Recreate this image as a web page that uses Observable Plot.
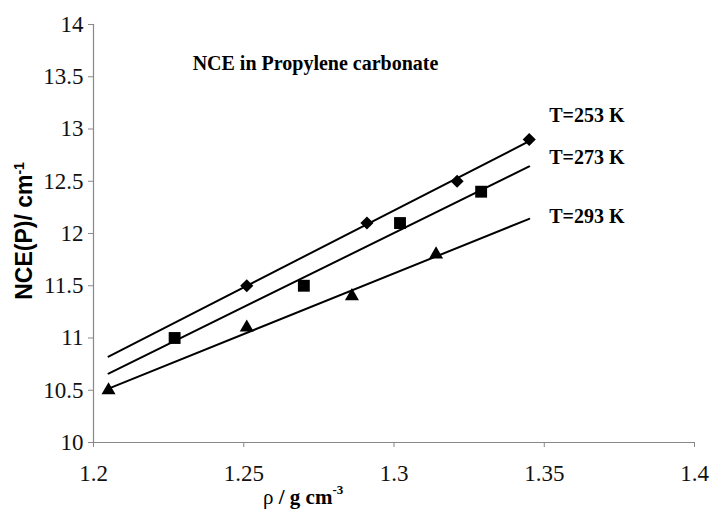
<!DOCTYPE html>
<html>
<head>
<meta charset="utf-8">
<script src="https://cdn.jsdelivr.net/npm/d3@7"></script>
<script src="https://cdn.jsdelivr.net/npm/@observablehq/plot@0.6"></script>
<style>
  html, body { margin: 0; padding: 0; background: #fff; }
  #chart svg text, #chart svg tspan { font-family: "Liberation Serif", "Times New Roman", serif !important; }
  #chart svg text.ylab, #chart svg text.ylab tspan { font-family: "Liberation Sans", Arial, sans-serif !important; }
</style>
</head>
<body>
<div id="chart"></div>
<script>
// ---- data ----
const chartTitle = "NCE in Propylene carbonate";
const xTicks = [1.2, 1.25, 1.3, 1.35, 1.4];
const yTicks = [10, 10.5, 11, 11.5, 12, 12.5, 13, 13.5, 14];
const seriesNames = ["T=253 K", "T=273 K", "T=293 K"];

const rho253 = [1.251, 1.291, 1.321, 1.345];
const nce253 = [11.5, 12.1, 12.5, 12.9];

const rho273 = [1.227, 1.270, 1.302, 1.329];
const nce273 = [11.0, 11.5, 12.1, 12.4];

const rho293 = [1.205, 1.251, 1.286, 1.314];
const nce293 = [10.5, 11.1, 11.4, 11.8];

// trendline extent (Excel-style forecast range)
const trendRange = [1.205, 1.345];

// ---- helpers ----
function toRows(xs, ys) { return xs.map((x, i) => ({x, y: ys[i]})); }
function regressionLine(xs, ys) {
  const mx = d3.mean(xs), my = d3.mean(ys);
  const sxy = d3.sum(xs, (x, i) => (x - mx) * (ys[i] - my));
  const sxx = d3.sum(xs, x => (x - mx) ** 2);
  const b = sxy / sxx, a = my - b * mx;
  return trendRange.map(x => ({x, y: a + b * x}));
}

const s253 = toRows(rho253, nce253), s273 = toRows(rho273, nce273), s293 = toRows(rho293, nce293);
const l253 = regressionLine(rho253, nce253);
const l273 = regressionLine(rho273, nce273);
const l293 = regressionLine(rho293, nce293);

const serif = "Liberation Serif";
const fmt = d => String(d);
const blank = () => "";

const plot = Plot.plot({
  width: 709,
  height: 521,
  marginLeft: 93,
  marginRight: 15,
  marginTop: 24,
  marginBottom: 79,
  style: {fontFamily: serif, fontSize: "23px", background: "#fff"},
  x: {domain: [1.2, 1.4]},
  y: {domain: [10, 14]},
  marks: [
    // tick lines (gray)
    Plot.axisX({ticks: xTicks, tickFormat: blank, tickSize: 5, label: null, stroke: "#888"}),
    Plot.axisY({ticks: yTicks, tickFormat: blank, tickSize: 5, label: null, stroke: "#888"}),
    // tick labels (serif)
    Plot.axisX({ticks: xTicks, tickFormat: fmt, tickSize: 0, tickPadding: 22, label: null, fontSize: 23, fontFamily: serif, fill: "#111"}),
    Plot.axisY({ticks: yTicks, tickFormat: fmt, tickSize: 0, tickPadding: 10, label: null, fontSize: 23, fontFamily: serif, fill: "#111"}),
    Plot.ruleX([xTicks[0]], {stroke: "#888", strokeWidth: 1.2}),
    Plot.ruleY([yTicks[0]], {stroke: "#888", strokeWidth: 1.2}),
    Plot.line(l253, {x: "x", y: "y", stroke: "#000", strokeWidth: 2}),
    Plot.line(l273, {x: "x", y: "y", stroke: "#000", strokeWidth: 2}),
    Plot.line(l293, {x: "x", y: "y", stroke: "#000", strokeWidth: 2}),
    Plot.dot(s253, {x: "x", y: "y", symbol: "diamond2", r: 5.9, fill: "#000", stroke: "none"}),
    Plot.dot(s273, {x: "x", y: "y", symbol: "square", r: 6.7, fill: "#000", stroke: "none"}),
    Plot.dot(s293, {x: "x", y: "y", symbol: "triangle", r: 5.2, fill: "#000", stroke: "none"}),
    Plot.text([seriesNames[0]], {x: () => l253[1].x, y: () => l253[1].y, text: d => d, textAnchor: "start", lineAnchor: "bottom", dx: 20, dy: -19, fontWeight: "bold", fontSize: 20, fontFamily: serif, fill: "#000"}),
    Plot.text([seriesNames[1]], {x: () => l273[1].x, y: () => l273[1].y, text: d => d, textAnchor: "start", lineAnchor: "bottom", dx: 20, dy: -2, fontWeight: "bold", fontSize: 20, fontFamily: serif, fill: "#000"}),
    Plot.text([seriesNames[2]], {x: () => l293[1].x, y: () => l293[1].y, text: d => d, textAnchor: "start", lineAnchor: "bottom", dx: 20, dy: 4, fontWeight: "bold", fontSize: 20, fontFamily: serif, fill: "#000"}),
    Plot.text([chartTitle], {frameAnchor: "top-left", text: d => d, textAnchor: "middle", lineAnchor: "bottom", dx: 222, dy: 45, fontWeight: "bold", fontSize: 20, fontFamily: serif, fill: "#000"})
  ]
});

const svg = d3.select(plot);
// y-axis title with superscript
const yl = svg.append("text")
  .attr("class", "ylab")
  .attr("transform", "translate(32,231) rotate(-90)")
  .attr("text-anchor", "middle")
  .attr("font-weight", "bold")
  .attr("font-size", 23)
  .attr("fill", "#000");
yl.append("tspan").text("NCE(P)/ cm");
yl.append("tspan").attr("font-size", 14).attr("dy", "-0.6em").text("-1");

// x-axis title with superscript
const xl = svg.append("text")
  .attr("x", 263).attr("y", 504)
  .attr("text-anchor", "start")
  .attr("font-size", 21)
  .attr("fill", "#000");
xl.append("tspan").text("ρ ");
xl.append("tspan").attr("font-weight", "bold").text("/ g cm");
xl.append("tspan").attr("font-weight", "bold").attr("font-size", 13).attr("dy", "-0.75em").text("-3");

document.getElementById("chart").appendChild(plot);
</script>
</body>
</html>
